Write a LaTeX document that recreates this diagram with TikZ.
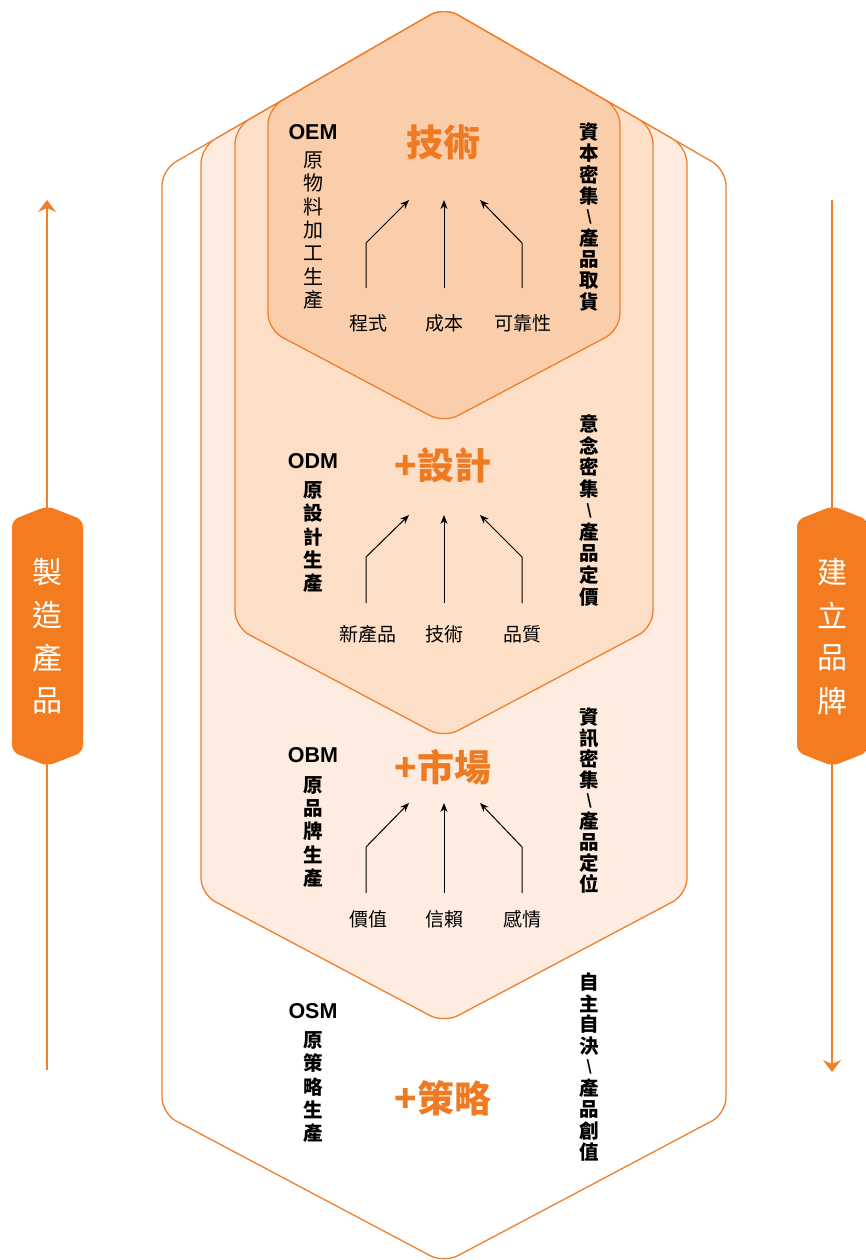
\documentclass[tikz,border=0pt]{standalone}
\usepackage{fontspec}
\newfontfamily\cjk{Noto Sans CJK TC}
\newfontfamily\lat{Liberation Sans}
\usetikzlibrary{arrows.meta}
\definecolor{orng}{HTML}{F07E2A}
\definecolor{hexA}{HTML}{FBCEAB}
\definecolor{hexB}{HTML}{FDDFC7}
\definecolor{hexC}{HTML}{FEECE1}
\definecolor{badgecol}{HTML}{F47C20}
\definecolor{titleor}{HTML}{F07A22}
\tikzset{
  hexline/.style={draw=orng, line width=1.3pt, rounded corners=16pt},
  titletext/.style={font=\cjk\bfseries\fontsize{37}{37}\selectfont, text=titleor, inner sep=0pt},
  lbl/.style={font=\cjk\fontsize{19}{19}\selectfont, inner sep=0pt},
  vbold/.style={font=\cjk\bfseries\fontsize{19.5}{19.5}\selectfont, inner sep=0pt},
  vreg/.style={font=\cjk\fontsize{20}{20}\selectfont, inner sep=0pt},
  codetext/.style={font=\lat\bfseries\fontsize{21.5}{21.5}\selectfont, inner sep=0pt},
  flow/.style={-{Stealth[length=9pt,width=7pt]}, line width=1pt},
  badgetext/.style={font=\cjk\fontsize{30}{30}\selectfont, text=white, inner sep=0pt},
  axisline/.style={draw=orng, line width=1.8pt},
  badgeshape/.style={fill=badgecol, draw=none, rounded corners=7pt}
}
\newcommand\vcol[6]{\foreach \c [count=\i from 0] in {#6} {\node[#5] (#1\i) at (#2,{#3+#4*\i}) {\c};}}
\newcommand\flowset[4]{%
  \coordinate (#1a0) at (366,#2); \coordinate (#1a1) at (366,#3); \coordinate (#1a2) at (409,#4);
  \coordinate (#1b0) at (444,#2); \coordinate (#1b1) at (444,#4);
  \coordinate (#1c0) at (522,#2); \coordinate (#1c1) at (522,#3); \coordinate (#1c2) at (480,#4);
  \draw[flow] (#1a0) -- (#1a1) -- (#1a2);
  \draw[flow] (#1b0) -- (#1b1);
  \draw[flow] (#1c0) -- (#1c1) -- (#1c2);}
\newcommand\sls{\scalebox{0.75}{\reflectbox{/}}}
\begin{document}
\begin{tikzpicture}[x=1pt,y=-1pt]
\useasboundingbox (0,0) rectangle (865,1260);
% hexagons
\path[hexline, fill=white] (162,600) -- (162,169.7) -- (444,7) -- (726,169.7) -- (726,1113.5) -- (444,1263) -- (162,1113.5) -- cycle;
\path[hexline, fill=hexC] (201,600) -- (201,147.2) -- (444,7) -- (687,147.2) -- (687,894.2) -- (444,1023) -- (201,894.2) -- cycle;
\path[hexline, fill=hexB] (235,400) -- (235,127.6) -- (444,7) -- (653,127.6) -- (653,627.2) -- (444,738) -- (235,627.2) -- cycle;
\path[hexline, fill=hexA] (268,200) -- (268,108.6) -- (444,7) -- (620,108.6) -- (620,329.7) -- (444,423) -- (268,329.7) -- cycle;
% side axes
\coordinate (lbot) at (47,1070); \coordinate (ltop) at (47,200);
\coordinate (rtop) at (832,200); \coordinate (rbot) at (832,1072);
\draw[axisline, -{Stealth[length=12pt,width=18pt,inset=4pt]}] (lbot) -- (ltop);
\draw[axisline, -{Stealth[length=12pt,width=18pt,inset=4pt]}] (rtop) -- (rbot);
\path[badgeshape] (12,634) -- (12,520) -- (47.5,506) -- (83,520) -- (83,752) -- (47.5,766) -- (12,752) -- cycle;
\path[badgeshape] (797,634) -- (797,520) -- (832.5,506) -- (868,520) -- (868,752) -- (832.5,766) -- (797,752) -- cycle;
\vcol{lb}{47.5}{572}{43}{badgetext}{製,造,產,品}
\vcol{rb}{832}{572}{43}{badgetext}{建,立,品,牌}
% OEM
\node[codetext] (oem) at (313,132) {OEM};
\vcol{oemc}{313}{160}{23.3}{vreg}{原,物,料,加,工,生,產}
\node[titletext] (t1) at (443,142) {技術};
\vcol{r1}{589}{132}{21.25}{vbold}{資,本,密,集,\sls,產,品,取,貨}
\flowset{f1}{288}{243}{200}
\node[lbl] (l1a) at (368,323) {程式};
\node[lbl] (l1b) at (444,323) {成本};
\node[lbl] (l1c) at (523,323) {可靠性};
% ODM
\node[codetext] (odm) at (313,461) {ODM};
\vcol{odmc}{313}{490}{23.3}{vbold}{原,設,計,生,產}
\node[titletext] (t2) at (443,465) {+設計};
\vcol{r2}{589}{424}{21.6}{vbold}{意,念,密,集,\sls,產,品,定,價}
\flowset{f2}{603}{557}{515}
\node[lbl] (l2a) at (368,634) {新產品};
\node[lbl] (l2b) at (444,634) {技術};
\node[lbl] (l2c) at (522,634) {品質};
% OBM
\node[codetext] (obm) at (313,755) {OBM};
\vcol{obmc}{313}{785}{23.3}{vbold}{原,品,牌,生,產}
\node[titletext] (t3) at (443,767) {+市場};
\vcol{r3}{589}{717}{20.9}{vbold}{資,訊,密,集,\sls,產,品,定,位}
\flowset{f3}{893}{847}{803}
\node[lbl] (l3a) at (368,919) {價值};
\node[lbl] (l3b) at (444,919) {信賴};
\node[lbl] (l3c) at (522,919) {感情};
% OSM
\node[codetext] (osm) at (313,1011) {OSM};
\vcol{osmc}{313}{1040}{23.3}{vbold}{原,策,略,生,產}
\node[titletext] (t4) at (443,1098) {+策略};
\vcol{r4}{589}{982}{21.25}{vbold}{自,主,自,決,\sls,產,品,創,值}
\end{tikzpicture}
\end{document}
